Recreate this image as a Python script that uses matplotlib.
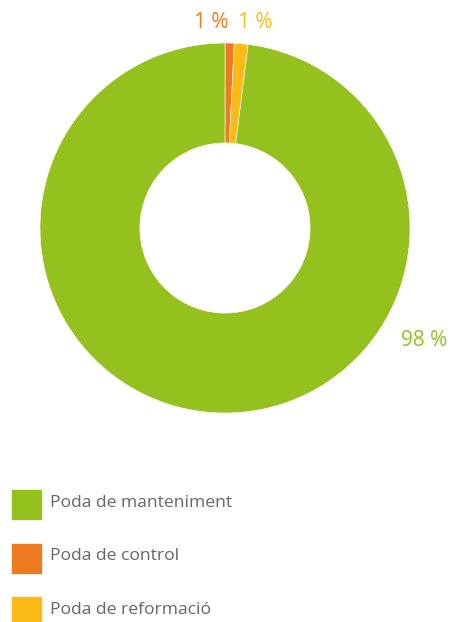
import matplotlib.pyplot as plt
from matplotlib.patches import Rectangle

plt.rcParams['font.family'] = ['Open Sans', 'DejaVu Sans']

labels = ["Poda de manteniment", "Poda de control", "Poda de reformació"]
values = [98.0, 0.8, 1.2]
pct_text = ["98 %", "1 %", "1 %"]
colors = ["#95c11f", "#ee7b22", "#fbba18"]

W, H = 450, 622
fig = plt.figure(figsize=(W / 100, H / 100), dpi=100)

# donut: centre (225, 228) px, outer radius 185 px
ax = fig.add_axes([40 / W, (H - 413) / H, 370 / W, 370 / H])
# order clockwise from 12 o'clock: control, reformacio, manteniment
order = [1, 2, 0]
ax.pie([values[i] for i in order], colors=[colors[i] for i in order],
       startangle=90, counterclock=False, radius=1.0,
       wedgeprops=dict(width=0.54, edgecolor="white", linewidth=0.4))
ax.set_xlim(-1, 1)
ax.set_ylim(-1, 1)
ax.set_aspect("equal")
ax.axis("off")

# percentage labels
fig.text(211 / W, 1 - 23 / H, pct_text[1], color=colors[1], fontsize=15,
         ha="center", va="center")
fig.text(255 / W, 1 - 23 / H, pct_text[2], color=colors[2], fontsize=15,
         ha="center", va="center")
fig.text(424 / W, 1 - 340 / H, pct_text[0], color=colors[0], fontsize=15,
         ha="center", va="center")

# legend
for i, (lab, col) in enumerate(zip(labels, colors)):
    y_top = 490 + i * 53.5
    fig.patches.append(Rectangle((12 / W, 1 - (y_top + 29) / H), 29 / W, 29 / H,
                                 color=col, transform=fig.transFigure))
    fig.text(50 / W, 1 - (y_top + 13) / H, lab, color="#666666", fontsize=12.6,
             ha="left", va="center")

fig.savefig("out.png", dpi=100)
